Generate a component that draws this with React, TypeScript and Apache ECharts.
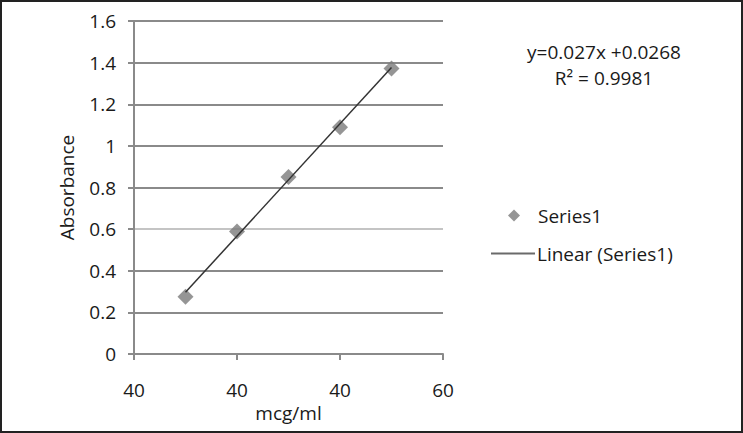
import React, { useEffect, useRef } from "react";
import * as echarts from "echarts";

const xValues = [10, 20, 30, 40, 50];
const absorbance = [0.275, 0.588, 0.85, 1.09, 1.372];
const xTickLabels = ["40", "40", "40", "60"];
const yTickLabels = ["0", "0.2", "0.4", "0.6", "0.8", "1", "1.2", "1.4", "1.6"];
const trendSlope = 0.027;
const trendIntercept = 0.0268;
const equationText = "y=0.027x +0.0268";
const r2Text = "R\u00B2 = 0.9981";

const FONT = "'Open Sans', sans-serif";

export default function App() {
  const ref = useRef<HTMLDivElement>(null);
  useEffect(() => {
    if (!ref.current) return;
    const chart = echarts.init(ref.current, null, { renderer: "svg" });
    const scatterData = xValues.map((x, i) => [x, absorbance[i]]);
    const x0 = xValues[0];
    const x1 = xValues[xValues.length - 1];
    const trendData = [
      [x0, trendSlope * x0 + trendIntercept],
      [x1, trendSlope * x1 + trendIntercept],
    ];
    const gridColors = yTickLabels.map((_, i) => (i === 3 ? "#c4c4c4" : "#8a8a8a"));
    chart.setOption({
      animation: false,
      backgroundColor: "#ffffff",
      textStyle: { fontFamily: FONT },
      grid: { left: 134, right: 300, top: 21, bottom: 79, containLabel: false },
      xAxis: {
        type: "value",
        min: 0,
        max: 60,
        interval: 20,
        name: "mcg/ml",
        nameLocation: "middle",
        nameGap: 48,
        nameTextStyle: { fontFamily: FONT, fontSize: 19, color: "#1a1a1a" },
        axisLine: { show: true, lineStyle: { color: "#8a8a8a", width: 2 } },
        axisTick: { show: true, length: 6, lineStyle: { color: "#8a8a8a", width: 2 } },
        axisLabel: {
          fontFamily: FONT,
          fontSize: 19,
          color: "#1a1a1a",
          margin: 26,
          formatter: (v: number) => xTickLabels[Math.round(v / 20)] ?? "",
        },
        splitLine: { show: false },
      },
      yAxis: {
        type: "value",
        min: 0,
        max: 1.6,
        interval: 0.2,
        name: "Absorbance",
        nameLocation: "middle",
        nameGap: 58,
        nameTextStyle: { fontFamily: FONT, fontSize: 19, color: "#1a1a1a" },
        axisLine: { show: true, lineStyle: { color: "#8a8a8a", width: 2 } },
        axisTick: { show: true, length: 6, lineStyle: { color: "#8a8a8a", width: 2 } },
        axisLabel: {
          fontFamily: FONT,
          fontSize: 19,
          color: "#1a1a1a",
          margin: 18,
          formatter: (v: number) => yTickLabels[Math.round(v / 0.2)] ?? "",
        },
        splitLine: { show: true, lineStyle: { color: gridColors, width: 2 } },
      },
      legend: [
        {
          data: [{ name: "Series1", icon: "diamond" }],
          left: 503,
          top: 201,
          itemWidth: 12,
          itemHeight: 12,
          textStyle: { fontFamily: FONT, fontSize: 19, color: "#1a1a1a", padding: [0, 0, 0, 13] },
          selectedMode: false,
        },
        {
          data: [{ name: "Linear (Series1)", icon: "rect" }],
          left: 486,
          top: 239,
          itemWidth: 44,
          itemHeight: 2,
          itemStyle: { color: "#6a6a6a" },
          textStyle: { fontFamily: FONT, fontSize: 19, color: "#1a1a1a", padding: [0, 0, 0, -3] },
          selectedMode: false,
        },
      ],
      series: [
        {
          name: "Linear (Series1)",
          type: "line",
          data: trendData,
          symbol: "none",
          lineStyle: { color: "#333333", width: 1.5 },
          itemStyle: { color: "#666666" },
          z: 3,
        },
        {
          name: "Series1",
          type: "scatter",
          data: scatterData,
          symbol: "diamond",
          symbolSize: 16,
          itemStyle: { color: "#7a7a7a" },
          z: 2,
        },
      ],
      graphic: [
        {
          type: "text",
          x: 604,
          y: 52,
          style: {
            text: equationText,
            fontFamily: FONT,
            fontSize: 19,
            fill: "#1a1a1a",
            align: "center",
            verticalAlign: "middle",
          },
        },
        {
          type: "text",
          x: 604,
          y: 78,
          style: {
            text: r2Text,
            fontFamily: FONT,
            fontSize: 19,
            fill: "#1a1a1a",
            align: "center",
            verticalAlign: "middle",
          },
        },
        {
          type: "rect",
          shape: { x: 1, y: 1, width: 741, height: 431 },
          style: { fill: "none", stroke: "#222222", lineWidth: 2 },
          z: 100,
        },
      ],
    });
    return () => chart.dispose();
  }, []);
  return (
    <div
      ref={ref}
      style={{ position: "fixed", left: 0, top: 0, width: 743, height: 433 }}
    />
  );
}
